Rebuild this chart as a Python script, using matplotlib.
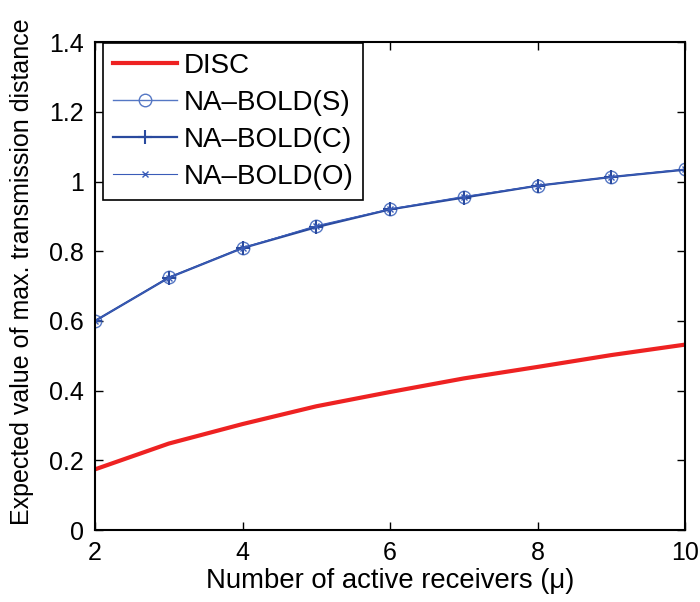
import numpy as np
import matplotlib.pyplot as plt

plt.rcParams["font.family"] = ["Liberation Sans", "DejaVu Sans"]

mu = [2, 3, 4, 5, 6, 7, 8, 9, 10]
disc = [0.174, 0.248, 0.304, 0.355, 0.396, 0.435, 0.468, 0.502, 0.532]
bold_s = [0.600, 0.725, 0.810, 0.871, 0.920, 0.955, 0.988, 1.013, 1.035]
bold_c = [0.600, 0.724, 0.809, 0.869, 0.920, 0.954, 0.988, 1.013, 1.034]
bold_o = [0.600, 0.724, 0.809, 0.873, 0.921, 0.957, 0.988, 1.013, 1.035]

fig = plt.figure(figsize=(7, 6.02), dpi=100)
ax = fig.add_axes([0.1357, 0.1196, 0.843, 0.8104])

ax.plot(mu, disc, color="#ee2222", lw=3, label="DISC")
ax.plot(mu, bold_s, color="#5577c4", lw=1, marker="o", ms=9, mfc="none",
        mew=1, label="NA\u2013BOLD(S)")
ax.plot(mu, bold_c, color="#2a4a9e", lw=1.6, marker="+", ms=10, mew=1.5,
        label="NA\u2013BOLD(C)")
ax.plot(mu, bold_o, color="#3a5cb8", lw=0.8, marker="x", ms=5, mew=1,
        label="NA\u2013BOLD(O)")

ax.set_xlim(2, 10)
ax.set_ylim(0, 1.4)
ax.set_xticks([2, 4, 6, 8, 10])
ax.set_yticks([0, 0.2, 0.4, 0.6, 0.8, 1.0, 1.2, 1.4])
ax.set_yticklabels(["0", "0.2", "0.4", "0.6", "0.8", "1", "1.2", "1.4"])
ax.tick_params(direction="in", top=True, right=True, labelsize=18, length=6,
               width=1, pad=8)
for s in ax.spines.values():
    s.set_linewidth(1.5)

ax.set_xlabel("Number of active receivers (\u03bc)", fontsize=19.8, labelpad=2)
ax.set_ylabel("Expected value of max. transmission distance", fontsize=18)
ax.yaxis.set_label_coords(-0.103, 0.53)

leg = ax.legend(loc="upper left", bbox_to_anchor=(0.0136, 0.998),
                borderaxespad=0, fontsize=20, fancybox=False, framealpha=1,
                edgecolor="black", handlelength=2.3, handletextpad=0.25,
                labelspacing=0.4, borderpad=0.35)
leg.get_frame().set_linewidth(1.2)

fig.savefig("out.png", dpi=100)
